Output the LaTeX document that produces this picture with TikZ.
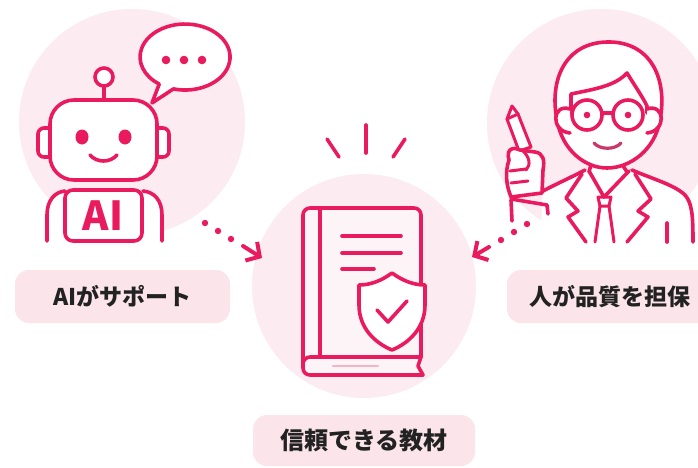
\documentclass[tikz,border=0pt]{standalone}
\usepackage{fontspec}
\newfontfamily\jp{Noto Sans CJK JP}
\usetikzlibrary{arrows.meta}
\definecolor{rose}{HTML}{EA1A5E}
\definecolor{blush}{HTML}{FCEBF0}
\definecolor{tagfill}{HTML}{FBE4EA}
\definecolor{ink}{HTML}{222222}
\definecolor{smilerose}{HTML}{C93868}
\definecolor{pagefill}{HTML}{FDF4F7}
\definecolor{pageline}{HTML}{F5B3C6}

\begin{document}
\begin{tikzpicture}[x=1pt,y=-1pt,
  icon/.style={draw=rose, line width=3.6pt, line cap=round, line join=round},
  thin icon/.style={icon, line width=3pt},
  halo/.style={circle, fill=blush, draw=none, inner sep=0pt, minimum size=#1},
  tag/.style={fill=tagfill, draw=none, rounded corners=14pt, inner sep=0pt,
              font=\jp\bfseries\fontsize{23}{26}\selectfont, text=ink},
  dotmark/.style={fill=rose, draw=none},
  flow/.style={draw=rose, line width=4pt, line cap=round, line join=round,
               -{Straight Barb[length=10pt, width=22pt]}}
]
\useasboundingbox (0,0) rectangle (698,467);
\fill[white] (0,0) rectangle (698,467);

% background discs
\node[halo=226pt] (aiHalo) at (132,122) {};
\node[halo=228pt] (humanHalo) at (601,123) {};
\node[halo=224pt] (bookHalo) at (364,286) {};

% caption tags
\node[tag, minimum width=215pt, minimum height=53pt] (aiTag) at (122.5,296.5) {AIがサポート};
\node[tag, minimum width=206pt, minimum height=53pt] (humanTag) at (610,296.5) {人が品質を担保};
\node[tag, minimum width=222pt, minimum height=51pt, font=\jp\bfseries\fontsize{24}{27}\selectfont]
  (bookTag) at (364,440.5) {信頼できる教材};

% ---------- robot ----------
% speech bubble
\draw[icon, fill=white] (152,103) -- (173.4,88.9)
  arc[start angle=105, end angle=-235, x radius=45, y radius=33] -- cycle;
\foreach \cx in {166,184,202} \fill[rose] (\cx,60) circle[radius=4.3pt];
% antenna
\draw[icon] (104,86) -- (104,100);
\draw[icon, fill=white] (104,77) circle[radius=9pt];
% ears
\draw[icon, fill=white, rounded corners=6pt] (50,128) -- (38,128) -- (38,157) -- (50,157);
\draw[icon, fill=white, rounded corners=6pt] (157,128) -- (169,128) -- (169,157) -- (157,157);
% head
\draw[icon, fill=white, rounded corners=24pt] (50,100) rectangle (157,180);
\fill[rose] (82,137) ellipse[x radius=6.5pt, y radius=7.5pt];
\fill[rose] (125,137) ellipse[x radius=6.5pt, y radius=7.5pt];
\draw[icon] (90,155) .. controls (97,163) and (110,163) .. (117,155);
% body
\fill[white] (47,241) -- (47,215) .. controls (47,200) and (55,191) .. (66,191)
  -- (142,191) .. controls (153,191) and (162,200) .. (162,215) -- (162,241) -- cycle;
\draw[icon] (47,241) -- (47,215) .. controls (47,200) and (55,192) .. (65,191);
\draw[icon] (162,241) -- (162,215) .. controls (162,200) and (154,192) .. (143,191);
\draw[icon, fill=white, rounded corners=8pt] (65,190) rectangle (142,241);
\node[font=\jp\bfseries\fontsize{40}{40}\selectfont, text=rose, inner sep=0pt] (aiMark) at (103,215.5) {AI};

% ---------- person ----------
% jacket
\fill[white] (543,190) .. controls (560,182) and (572,177) .. (585,169) -- (632,169)
  .. controls (655,180) and (690,190) .. (693,215) -- (693,242) -- (540,242) -- cycle;
\draw[icon] (585,170) .. controls (570,178) and (556,184) .. (543,191);
\draw[icon] (632,170) .. controls (650,178) and (675,185) .. (685,195)
  .. controls (692,203) and (693,215) .. (693,242);
\draw[icon] (582,174) -- (566,198) -- (578,211) -- (568,217) -- (586,242);
\draw[icon] (635,174) -- (651,199) -- (638,211) -- (648,217) -- (627,242);
\draw[icon] (589,171) -- (604,197) -- (629,171);
\draw[thin icon] (598,197) -- (611,197) -- (609,206) -- (600,206) -- cycle;
\draw[thin icon] (600,206) -- (595,242);
\draw[thin icon] (609,206) -- (614,242);
\draw[icon] (667,223) -- (667,242);
% neck
\draw[icon] (592,161) -- (589,172);
\draw[icon] (620,161) -- (627,172);
% head
\draw[icon, fill=white] (557,120) .. controls (549,80) and (565,43) .. (607,42)
  .. controls (650,41) and (668,78) .. (660,120)
  .. controls (655,150) and (630,168) .. (607,168)
  .. controls (585,168) and (562,150) .. (557,120) -- cycle;
\draw[icon] (571,113) -- (571,94) .. controls (595,89) and (615,86) .. (627,73)
  .. controls (635,86) and (642,96) .. (647,106) -- (647,113);
\draw[icon, fill=white] (570,109) .. controls (552,103) and (550,131) .. (570,133);
\draw[icon, fill=white] (647,109) .. controls (665,103) and (667,131) .. (647,133);
\draw[icon, fill=white] (587,115) circle[radius=15pt];
\draw[icon, fill=white] (628,115) circle[radius=15pt];
\draw[icon] (602,113) -- (613,113);
\fill[rose] (587,115) circle[radius=3.3pt];
\fill[rose] (628,115) circle[radius=3.3pt];
\draw[smilerose, line width=3.2pt, line cap=round] (594,143) .. controls (600,150) and (615,150) .. (621,143);
% pen and hand
\draw[thin icon, fill=white] (512,106) -- (507,119) -- (519,151) -- (531,147) -- (518,114) -- cycle;
\draw[thin icon] (507,119) -- (518,114);
\draw[icon, fill=white] (509,160) .. controls (506,150) and (512,146) .. (520,150) -- (535,152)
  .. controls (543,153) and (545,160) .. (543,170) -- (542,193) -- (511,197)
  .. controls (506,185) and (505,172) .. (509,160) -- cycle;
\draw[thin icon] (510,171) -- (526,169);
\draw[thin icon] (511,183) -- (528,181);
\draw[thin icon] (522,150) .. controls (530,157) and (531,165) .. (526,170);
\draw[icon] (511,199) -- (547,205) -- (548,214);
\draw[icon] (511,200) -- (512,221);

% ---------- book ----------
\draw[icon] (366,125) -- (366,153);
\draw[icon] (327,139) -- (339,157);
\draw[icon] (405,139) -- (393,157);
\draw[icon, fill=pagefill, rounded corners=7pt] (421,357) -- (421,208) -- (303,208) -- (303,375) -- (423,375);
\draw[icon] (423,375) -- (418,366) -- (421,357);
\draw[icon, rounded corners=7pt] (421,357) -- (303,357) -- (303,366);
\draw[icon] (320,210) -- (320,357);
\draw[pageline, line width=2.4pt, line cap=round] (333,366) -- (378,366);
\draw[icon] (342,236) -- (401,236);
\draw[icon] (342,253) -- (401,253);
\draw[icon] (342,269) -- (374,269);
% shield with check
\draw[icon, fill=white] (392,273) .. controls (381,281) and (370,285) .. (359,285) -- (359,305)
  .. controls (359,328) and (375,343) .. (392,350)
  .. controls (409,343) and (425,328) .. (425,305) -- (425,285)
  .. controls (414,285) and (403,281) .. (392,273) -- cycle;
\draw[icon] (377,310) -- (388,322) -- (407,301);

% ---------- connectors ----------
\coordinate (aiOut) at (243,246);
\coordinate (bookInL) at (262,258);
\coordinate (humanOut) at (489,247);
\coordinate (bookInR) at (472,257);
\foreach \p in {(205,223),(218,231),(231,239)} \fill[rose] \p circle[radius=3.2pt];
\foreach \p in {(527,224),(514,232),(501,240)} \fill[rose] \p circle[radius=3.2pt];
\draw[flow] (aiOut) -- (bookInL);
\draw[flow] (humanOut) -- (bookInR);
\end{tikzpicture}
\end{document}
